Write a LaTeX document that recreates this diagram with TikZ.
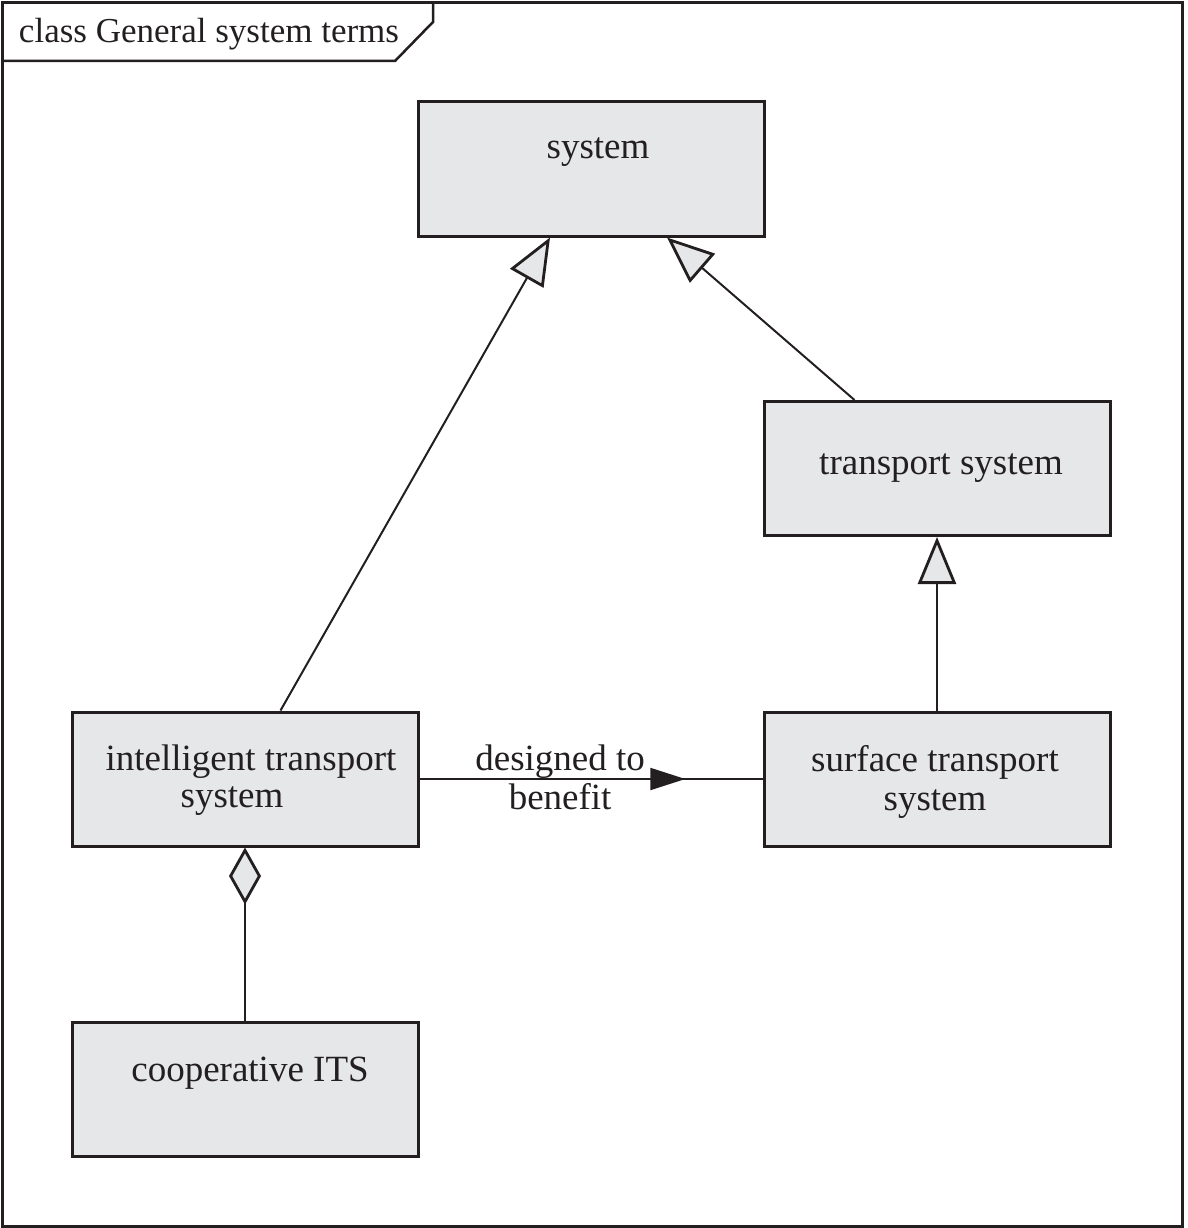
\documentclass[tikz,border=0pt]{standalone}
\usepackage{fontspec}
\setmainfont{Liberation Serif}
\usetikzlibrary{arrows.meta,decorations.markings}
\definecolor{boxgray}{RGB}{230,231,233}
\definecolor{ink}{RGB}{35,31,32}
\tikzset{
  classbox/.style={draw=ink, fill=boxgray, line width=3pt, minimum width=346pt, minimum height=134pt, inner sep=0pt},
  lbl/.style={text=ink, font=\fontsize{37}{39}\selectfont, inner sep=0pt, align=center},
  conn/.style={draw=ink, line width=2pt},
  gen/.style={conn, -{Triangle[open, fill=boxgray, length=47pt, width=38pt, line width=2.8pt]}},
  agg/.style={conn, -{Diamond[fill=boxgray, length=57pt, width=32pt, line width=2.8pt]}},
}
\begin{document}
\begin{tikzpicture}[x=1pt,y=-1pt]
\useasboundingbox (0,0) rectangle (1187,1228);
% frame
\draw[ink, line width=3pt] (2,3) rectangle (1182,1226);
\draw[ink, line width=2.5pt] (2,61) -- (395,61) -- (433,22) -- (433,3);
\node[lbl, font=\fontsize{35}{37}\selectfont] (title) at (209,34) {class General system terms};
% boxes
\node[classbox] (sys) at (591.5,169) {};
\node[classbox] (ts) at (937,468.5) {};
\node[classbox] (its) at (245,779) {};
\node[classbox] (sts) at (937,779) {};
\node[classbox] (coop) at (245,1089.5) {};
% labels
\node[lbl] (sysl) at (598,152) {system};
\node[lbl] (tsl) at (941,468) {transport system};
\node[lbl] (itsl1) at (251,762) {intelligent transport};
\node[lbl] (itsl2) at (232,801) {system};
\node[lbl] (stsl) at (935,782) {surface transport\\system};
\node[lbl] (coopl) at (250,1073) {cooperative ITS};
% connectors
\draw[gen] ([xshift=210pt]its.north west) -- ([xshift=133pt]sys.south west);
\draw[gen] ([xshift=92pt]ts.north west) -- ([xshift=250pt]sys.south west);
\draw[gen] (sts.north) -- (ts.south);
\draw[agg] (coop.north) -- (its.south);
\draw[conn, postaction={decorate, decoration={markings, mark=at position 0.775 with {\arrow{Triangle[fill=ink, length=35pt, width=22pt]}}}}] (its.east) -- node[lbl, pos=0.41, yshift=2pt] (assoc) {designed to\\benefit} (sts.west);
\end{tikzpicture}
\end{document}
